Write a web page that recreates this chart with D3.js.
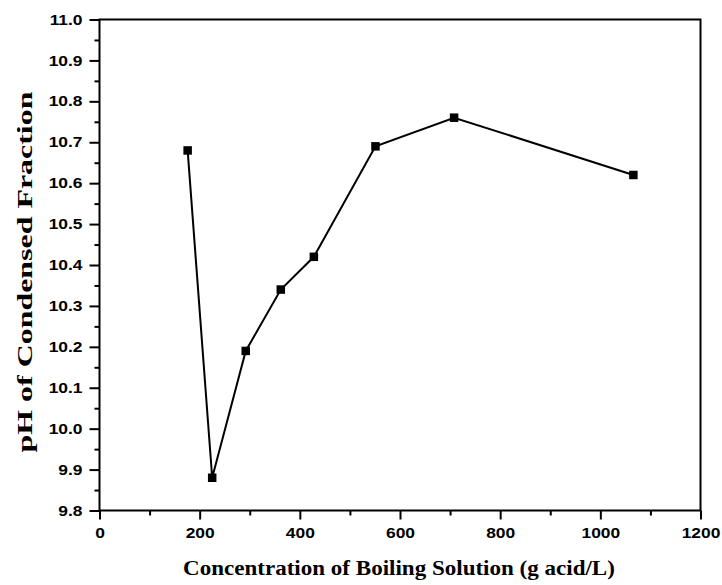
<!DOCTYPE html>
<html><head><meta charset="utf-8">
<script src="https://cdn.jsdelivr.net/npm/d3@7"></script>
<style>body{margin:0;background:#fff}svg{display:block}</style>
</head><body>
<svg id="c" width="722" height="585"></svg>
<script>
const concentration = [176, 225, 292, 362, 428, 551, 708, 1066];
const phValues = [10.68, 9.88, 10.19, 10.34, 10.42, 10.69, 10.76, 10.62];
const xTicks = [0, 200, 400, 600, 800, 1000, 1200];
const yTicks = [9.8, 9.9, 10.0, 10.1, 10.2, 10.3, 10.4, 10.5, 10.6, 10.7, 10.8, 10.9, 11.0];
const xMinor = [100, 300, 500, 700, 900, 1100];
const yMinor = [9.85, 9.95, 10.05, 10.15, 10.25, 10.35, 10.45, 10.55, 10.65, 10.75, 10.85, 10.95];
const xTitle = "Concentration of Boiling Solution (g acid/L)";
const yTitle = "pH of Condensed Fraction";

const svg = d3.select("#c");
const L = 99.5, R = 700.5, T = 19.5, B = 510.5;
const x = d3.scaleLinear().domain([0, 1200]).range([L, R]);
const y = d3.scaleLinear().domain([9.8, 11.0]).range([B, T]);

const tickFont = "'Liberation Sans', Arial, sans-serif";
const titleFont = "'Liberation Serif', 'Times New Roman', serif";
const sx = 1.2;

// frame
svg.append("rect").attr("x", L).attr("y", T).attr("width", R - L).attr("height", B - T)
  .attr("fill", "none").attr("stroke", "#000").attr("stroke-width", 2);

// x axis
const xAxis = svg.append("g").attr("transform", `translate(0,${B})`)
  .call(d3.axisBottom(x).tickValues(xTicks).tickSize(9).tickPadding(8).tickFormat(d3.format("d")));
xAxis.select(".domain").remove();
xAxis.selectAll("line").attr("stroke-width", 2);
xAxis.selectAll("text").attr("font-family", tickFont).attr("font-weight", "bold").attr("font-size", 14.5)
  .attr("fill", "#000").attr("transform", `scale(${sx},1)`);
const xAxisMinor = svg.append("g").attr("transform", `translate(0,${B})`)
  .call(d3.axisBottom(x).tickValues(xMinor).tickSize(5).tickFormat(""));
xAxisMinor.select(".domain").remove();
xAxisMinor.selectAll("line").attr("stroke-width", 2);

// y axis
const yAxis = svg.append("g").attr("transform", `translate(${L},0)`)
  .call(d3.axisLeft(y).tickValues(yTicks).tickSize(10).tickPadding(7).tickFormat(d3.format(".1f")));
yAxis.select(".domain").remove();
yAxis.selectAll("line").attr("stroke-width", 2);
yAxis.selectAll("text").attr("font-family", tickFont).attr("font-weight", "bold").attr("font-size", 14.5)
  .attr("fill", "#000").attr("x", -17 / sx).attr("transform", `scale(${sx},1)`);
const yAxisMinor = svg.append("g").attr("transform", `translate(${L},0)`)
  .call(d3.axisLeft(y).tickValues(yMinor).tickSize(5).tickFormat(""));
yAxisMinor.select(".domain").remove();
yAxisMinor.selectAll("line").attr("stroke-width", 2);

// line
const data = concentration.map((c, i) => ({c, p: phValues[i]}));
svg.append("path").datum(data)
  .attr("d", d3.line().x(d => x(d.c)).y(d => y(d.p)))
  .attr("fill", "none").attr("stroke", "#000").attr("stroke-width", 2);

const s = 8.5;
svg.selectAll("rect.pt").data(data).join("rect").attr("class", "pt")
  .attr("x", d => x(d.c) - s / 2).attr("y", d => y(d.p) - s / 2)
  .attr("width", s).attr("height", s).attr("fill", "#000");

// titles
const xt = svg.append("text").attr("x", 0).attr("y", 0).attr("text-anchor", "middle")
  .attr("font-family", titleFont).attr("font-weight", "bold").attr("font-size", 21).attr("fill", "#000")
  .text(xTitle);
const xk = 432 / xt.node().getComputedTextLength();
xt.attr("transform", `translate(399,575) scale(${xk},1)`);

const yt = svg.append("text").attr("x", 0).attr("y", 0).attr("text-anchor", "middle")
  .attr("font-family", titleFont).attr("font-weight", "bold").attr("font-size", 21).attr("fill", "#000")
  .text(yTitle);
const yk = 361 / yt.node().getComputedTextLength();
yt.attr("transform", `translate(32,272) rotate(-90) scale(${yk},1)`);
</script>
</body></html>
